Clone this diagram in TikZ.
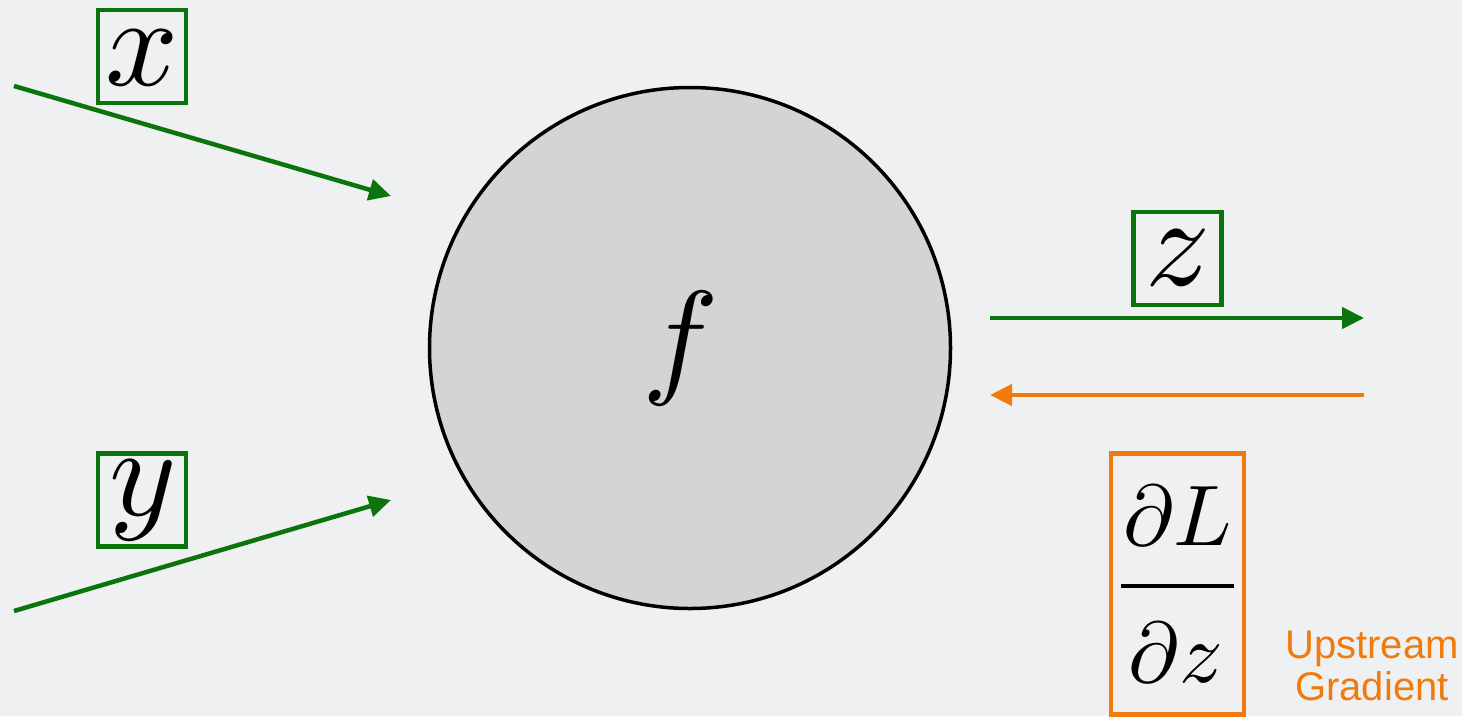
\documentclass[tikz,border=0pt]{standalone}
\usepackage{graphicx}
\usepackage{fontspec}
\newfontfamily\labelsans{Liberation Sans}
\usetikzlibrary{arrows.meta}
\definecolor{bg}{RGB}{238,240,242}
\definecolor{fwd}{RGB}{12,116,12}
\definecolor{bwd}{RGB}{240,122,12}
\definecolor{nodefill}{RGB}{212,212,212}
\newcommand{\bigmath}[1]{\scalebox{12.8}{$#1$}}
\newcommand{\fracmath}[1]{\scalebox{8.6}{$#1$}}
\tikzset{
  varbox/.style={draw=fwd, line width=4.5pt, minimum width=88pt, minimum height=93pt, inner sep=0pt},
  varlabel/.style={inner sep=0pt},
  gradbox/.style={draw=bwd, line width=4.5pt, minimum width=133pt, minimum height=261pt, inner sep=0pt},
  fracpart/.style={inner sep=0pt},
  fwdarrow/.style={draw=fwd, line width=4.5pt, -{Triangle[length=22pt,width=21pt]}},
  bwdarrow/.style={draw=bwd, line width=4.5pt, -{Triangle[length=22pt,width=21pt]}},
}
\begin{document}
\begin{tikzpicture}[x=1pt,y=-1pt]
\fill[bg] (0,0) rectangle (1462,716);
\useasboundingbox (0,0) rectangle (1462,716);
% function node
\node[circle, draw=black, line width=3.5pt, fill=nodefill, minimum size=521pt, inner sep=0pt] (f) at (690,348) {};
\node[inner sep=0pt] (flabel) at (681,348) {\bigmath{f}};
% inputs
\coordinate (xs) at (14,86);
\coordinate (xe) at (391,196);
\coordinate (ys) at (14,611);
\coordinate (ye) at (391,500);
\draw[fwdarrow] (xs) -- (xe);
\draw[fwdarrow] (ys) -- (ye);
\node[varbox] (xbox) at (142,56.5) {};
\node[varlabel] (xl) at (142,58) {\bigmath{x}};
\node[varbox] (ybox) at (142,500) {};
\node[varlabel] (yl) at (143,500) {\bigmath{y}};
% output
\coordinate (zs) at (990,318);
\coordinate (ze) at (1364,318);
\draw[fwdarrow] (zs) -- (ze);
\node[varbox] (zbox) at (1177.5,258.5) {};
\node[varlabel] (zl) at (1178,258) {\bigmath{z}};
% upstream gradient
\coordinate (gs) at (1364,395);
\coordinate (ge) at (990,395);
\draw[bwdarrow] (gs) -- (ge);
\node[gradbox] (gbox) at (1177.5,584) {};
\node[fracpart, anchor=base] (num) at (1178,545) {\fracmath{\partial L}};
\coordinate (barl) at (1121,586);
\coordinate (barr) at (1234,586);
\draw[line width=4.5pt] (barl) -- (barr);
\node[fracpart, anchor=base] (den) at (1176,682) {\fracmath{\partial z}};
\node[align=center, inner sep=0pt, text=bwd, font=\labelsans\fontsize{40}{42}\selectfont] (up) at (1372,666) {Upstream\\Gradient};
\end{tikzpicture}
\end{document}
